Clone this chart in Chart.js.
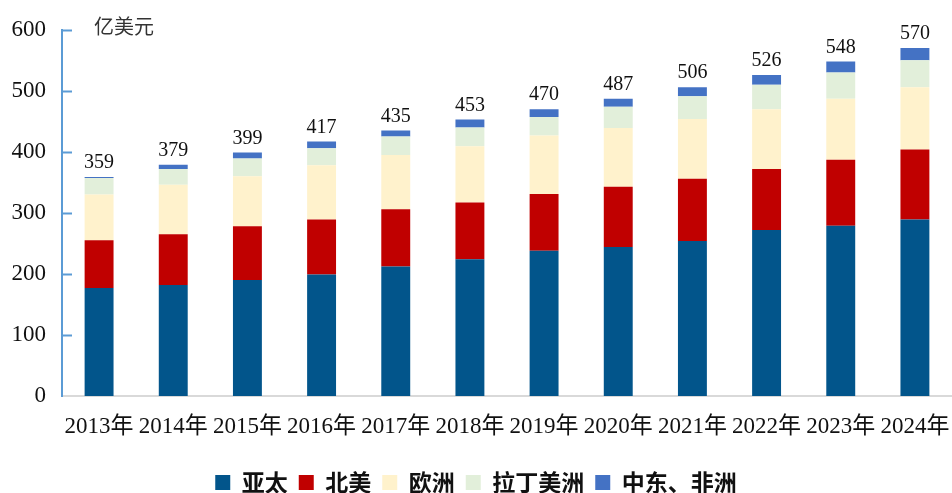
<!DOCTYPE html>
<html lang="zh">
<head>
  <meta charset="UTF-8">
  <title>市场规模</title>
  <script src="https://cdn.jsdelivr.net/npm/chart.js"></script>
  <style>
    html, body { margin: 0; padding: 0; background: #fff; }
    #wrap { width: 952px; height: 493px; }
  </style>
</head>
<body>
<div id="wrap"><canvas id="grafica"></canvas></div>
<script>
const anios = ["2013年", "2014年", "2015年", "2016年", "2017年", "2018年",
  "2019年", "2020年", "2021年", "2022年", "2023年", "2024年"];
const yaTai   = [177, 182, 190, 199, 212, 224, 238, 244, 254, 272, 279, 289];
const beiMei  = [ 78,  83,  88,  90,  94,  93,  93,  99, 102, 100, 108, 115];
const ouZhou  = [ 75,  81,  82,  89,  89,  92,  96,  96,  98,  98, 100, 102];
const laDing  = [ 27,  26,  29,  28,  30,  31,  30,  35,  37,  40,  43,  44];
const zhongDong = [ 2,   7,  10,  11,  10,  13,  13,  13,  15,  16,  18,  20];
const totales = [359, 379, 399, 417, 435, 453, 470, 487, 506, 526, 548, 570];
const yTicks  = [0, 100, 200, 300, 400, 500, 600];

const serif = "'Liberation Serif', 'Noto Sans CJK SC', serif";
const ejeAzul = "#5b9bd5";

// totales encima de cada barra + unidad + marcas hacia dentro del eje y
const extras = {
  id: "extras",
  afterDatasetsDraw(chart) {
    const ctx = chart.ctx;
    const y = chart.scales.y;
    const top = chart.getDatasetMeta(chart.data.datasets.length - 1);
    ctx.save();
    ctx.fillStyle = "#111";
    ctx.font = "20px " + serif;
    ctx.textAlign = "center";
    ctx.textBaseline = "middle";
    top.data.forEach((bar, i) => {
      ctx.fillText(totales[i], bar.x, y.getPixelForValue(totales[i]) - 14);
    });
    ctx.fillStyle = "#333";
    ctx.font = "20px 'Noto Sans CJK SC', sans-serif";
    ctx.textAlign = "left";
    ctx.fillText("亿美元", 94, 26);
    ctx.strokeStyle = ejeAzul;
    ctx.lineWidth = 2;
    yTicks.slice(1).forEach(v => {
      const py = Math.round(y.getPixelForValue(v)) + 0.5;
      ctx.beginPath();
      ctx.moveTo(y.right, py);
      ctx.lineTo(y.right + 10, py);
      ctx.stroke();
    });
    ctx.restore();
  }
};

const serie = (label, data, color) => ({
  label, data, backgroundColor: color, borderWidth: 0,
  barPercentage: 0.39, categoryPercentage: 1
});

new Chart(document.getElementById("grafica"), {
  type: "bar",
  data: {
    labels: anios,
    datasets: [
      serie("亚太", yaTai, "#02558b"),
      serie("北美", beiMei, "#c00000"),
      serie("欧洲", ouZhou, "#fff2cc"),
      serie("拉丁美洲", laDing, "#e2efda"),
      serie("中东、非洲", zhongDong, "#4472c4")
    ]
  },
  options: {
    responsive: true,
    maintainAspectRatio: false,
    animation: false,
    layout: { padding: { top: 26, left: 0, right: 0, bottom: 0 } },
    plugins: {
      tooltip: { enabled: false },
      legend: {
        position: "bottom",
        maxHeight: 33,
        labels: {
          boxWidth: 15, boxHeight: 15, padding: 11, color: "#111",
          font: { family: "'Noto Sans CJK SC', sans-serif", size: 23, weight: "bold" }
        }
      }
    },
    scales: {
      x: {
        stacked: true,
        grid: { display: false },
        border: { color: "#d9d9d9", width: 2 },
        ticks: { color: "#111", padding: 9, maxRotation: 0, autoSkip: false,
          font: { family: serif, size: 23 } },
        afterFit(s) { s.height = 64; s.paddingLeft = 0; s.paddingRight = 0; }
      },
      y: {
        stacked: true,
        min: 0, max: 600,
        grid: { display: false, drawTicks: false },
        border: { color: ejeAzul, width: 2 },
        ticks: { stepSize: 100, color: "#111", padding: 16,
          font: { family: serif, size: 23 } },
        afterFit(s) { s.width = 62; }
      }
    }
  },
  plugins: [extras]
});
</script>
</body>
</html>
